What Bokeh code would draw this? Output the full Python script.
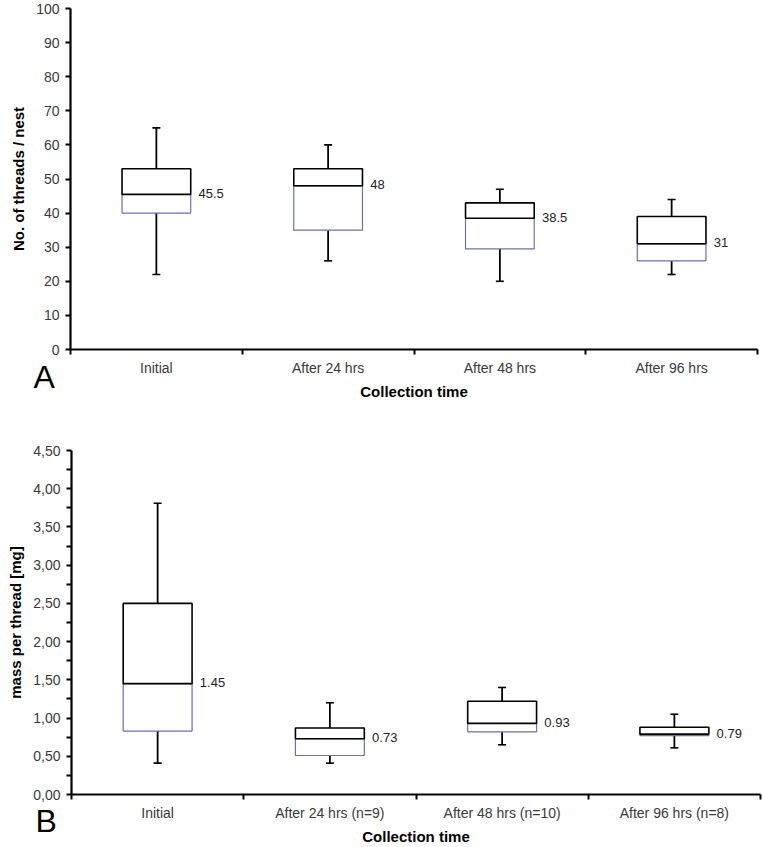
import numpy as np
from bokeh.plotting import figure
from bokeh.layouts import column
from bokeh.models import Range1d, FixedTicker, CustomJSTickFormatter, Label, ColumnDataSource
from bokeh.core.properties import value
from bokeh.embed import file_html
from bokeh.resources import INLINE

# ---------------- data ----------------
categories_a = ["Initial", "After 24 hrs", "After 48 hrs", "After 96 hrs"]
whisker_high_a = [65, 60, 47, 44]
q3_a = [53, 53, 43, 39]
median_a = [45.5, 48, 38.5, 31]
q1_a = [40, 35, 29.5, 26]
whisker_low_a = [22, 26, 20, 22]
median_labels_a = ["45.5", "48", "38.5", "31"]
y_ticks_a = [0, 10, 20, 30, 40, 50, 60, 70, 80, 90, 100]

categories_b = ["Initial", "After 24 hrs (n=9)", "After 48 hrs (n=10)", "After 96 hrs (n=8)"]
whisker_high_b = [3.81, 1.20, 1.40, 1.05]
q3_b = [2.50, 0.87, 1.22, 0.88]
median_b = [1.45, 0.73, 0.93, 0.79]
q1_b = [0.83, 0.51, 0.82, 0.77]
whisker_low_b = [0.41, 0.41, 0.65, 0.61]
median_labels_b = ["1.45", "0.73", "0.93", "0.79"]
y_ticks_b = [0.0, 0.5, 1.0, 1.5, 2.0, 2.5, 3.0, 3.5, 4.0, 4.5]
y_minor_ticks_b = [0.25, 0.75, 1.25, 1.75, 2.25, 2.75, 3.25, 3.75, 4.25]

FONT = "Liberation Sans"
PURPLE = "#6e6eb4"
TICK_COLOR = "#3a3a3a"
BOX_HALF = 0.2
FIG_W = 763


def make_panel(categories, hi, q3, med, q1, lo, med_labels, y_max, y_ticks,
               y_minor, y_title, letter, fig_h, axis_left_px, axis_right_px,
               axis_top_px, axis_bottom_px, letter_px, y_formatter=None):
    """Pixel arguments are measured inside the figure canvas (top-left origin).
    The frame covers the whole canvas; axes are pinned at x=0 / y=0."""
    n = len(categories)
    centers = np.arange(n) + 0.5
    ux = (axis_right_px - axis_left_px) / n            # px per x unit
    uy = (axis_bottom_px - axis_top_px) / y_max        # px per y unit
    x_lo = -axis_left_px / ux
    x_hi = n + (FIG_W - axis_right_px) / ux
    y_hi = y_max + axis_top_px / uy
    y_lo = -(fig_h - axis_bottom_px) / uy

    p = figure(width=FIG_W, height=fig_h, output_backend="svg",
               toolbar_location=None, x_range=Range1d(x_lo, x_hi),
               y_range=Range1d(y_lo, y_hi),
               min_border_top=0, min_border_bottom=0,
               min_border_left=0, min_border_right=0)
    p.outline_line_color = None
    p.xgrid.visible = False
    p.ygrid.visible = False

    src = ColumnDataSource(dict(
        x=centers, left=centers - BOX_HALF, right=centers + BOX_HALF,
        hi=hi, q3=q3, med=med, q1=q1, lo=lo, lab=med_labels,
        lab_x=centers + BOX_HALF + 0.045,
    ))
    p.segment(x0="x", y0="q3", x1="x", y1="hi", source=src, line_color="black", line_width=1.8)
    p.segment(x0="x", y0="q1", x1="x", y1="lo", source=src, line_color="black", line_width=1.8)
    p.scatter(x="x", y="hi", source=src, marker="dash", size=8, line_color="black", line_width=1.6)
    p.scatter(x="x", y="lo", source=src, marker="dash", size=8, line_color="black", line_width=1.6)
    p.quad(left="left", right="right", bottom="q1", top="med", source=src,
           fill_color="white", line_color=PURPLE, line_width=1.2)
    p.quad(left="left", right="right", bottom="med", top="q3", source=src,
           fill_color="white", line_color="black", line_width=1.6)
    p.text(x="lab_x", y="med", text="lab", source=src, text_font=value(FONT),
           text_font_size="13px", text_color="#222222", text_align="left",
           text_baseline="middle", y_offset=-1)

    xa = p.xaxis[0]
    xa.fixed_location = 0
    xa.bounds = (0, n)
    xa.ticker = FixedTicker(ticks=list(centers), minor_ticks=list(np.arange(n + 1)))
    xa.formatter = CustomJSTickFormatter(args=dict(labels=categories),
                                         code="return labels[Math.floor(tick)];")
    xa.major_tick_out = 0
    xa.major_tick_in = 0
    xa.minor_tick_out = 5
    xa.minor_tick_in = 0
    xa.minor_tick_line_width = 2
    xa.minor_tick_line_color = "black"
    xa.axis_line_width = 2.2
    xa.axis_line_color = "black"
    xa.major_label_text_font = FONT
    xa.major_label_text_font_size = "14px"
    xa.major_label_text_color = TICK_COLOR
    xa.major_label_standoff = 5
    xa.axis_label = "Collection time"
    xa.axis_label_text_font = FONT
    xa.axis_label_text_font_style = "bold"
    xa.axis_label_text_font_size = "15px"
    xa.axis_label_text_color = "black"
    xa.axis_label_standoff = 4

    ya = p.yaxis[0]
    ya.fixed_location = 0
    ya.bounds = (0, y_max)
    ya.ticker = FixedTicker(ticks=y_ticks, minor_ticks=y_minor)
    if y_formatter is not None:
        ya.formatter = y_formatter
    ya.major_tick_out = 5
    ya.major_tick_in = 0
    ya.minor_tick_out = 5 if y_minor else 0
    ya.minor_tick_in = 0
    ya.major_tick_line_width = 2
    ya.minor_tick_line_width = 2
    ya.major_tick_line_color = "black"
    ya.minor_tick_line_color = "black"
    ya.axis_line_width = 2.2
    ya.axis_line_color = "black"
    ya.major_label_text_font = FONT
    ya.major_label_text_font_size = "14px"
    ya.major_label_text_color = TICK_COLOR
    ya.major_label_standoff = 6
    ya.axis_label = y_title
    ya.axis_label_text_font = FONT
    ya.axis_label_text_font_style = "bold"
    ya.axis_label_text_font_size = "15px"
    ya.axis_label_text_color = "black"
    ya.axis_label_standoff = 6

    lx = (letter_px[0] - axis_left_px) / ux
    ly = -(letter_px[1] - axis_bottom_px) / uy
    p.add_layout(Label(x=lx, y=ly, text=letter, text_font=FONT,
                       text_font_size="32px", text_color="black",
                       text_baseline="middle", text_align="left"))
    return p


# panel A: canvas spans page y 0..404
pA = make_panel(categories_a, whisker_high_a, q3_a, median_a, q1_a, whisker_low_a,
                median_labels_a, 100, y_ticks_a, [], "No. of threads / nest", "A",
                fig_h=404, axis_left_px=70, axis_right_px=757, axis_top_px=8,
                axis_bottom_px=349, letter_px=(33, 376))

# panel B: canvas spans page y 404..847
fmt_b = CustomJSTickFormatter(code="return tick.toFixed(2).replace('.', ',');")
pB = make_panel(categories_b, whisker_high_b, q3_b, median_b, q1_b, whisker_low_b,
                median_labels_b, 4.5, y_ticks_b, y_minor_ticks_b, "mass per thread [mg]", "B",
                fig_h=443, axis_left_px=71, axis_right_px=760, axis_top_px=46,
                axis_bottom_px=390, letter_px=(35, 416), y_formatter=fmt_b)

layout = column(pA, pB, spacing=0)
open("out.html", "w").write(file_html(layout, INLINE))
